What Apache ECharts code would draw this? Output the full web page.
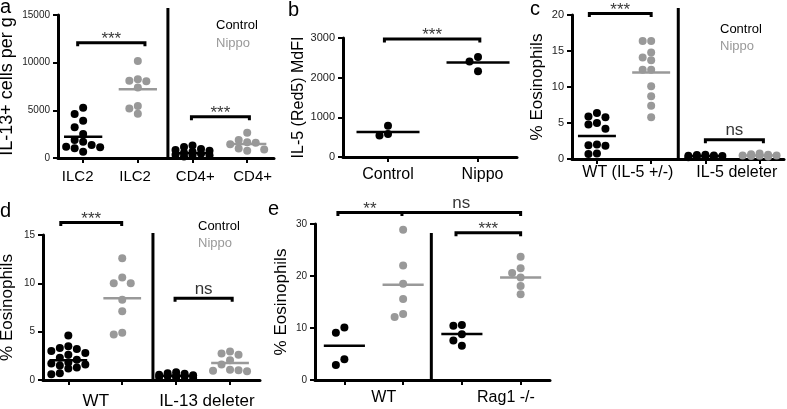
<!DOCTYPE html>
<html><head><meta charset="utf-8">
<script src="https://cdn.jsdelivr.net/npm/echarts@6/dist/echarts.min.js"></script>
<style>html,body{margin:0;padding:0;background:#fff}#c{width:787px;height:409px}</style>
</head><body><div id="c"></div>
<script>
// ---------------- DATA ----------------
// Panel a: IL-13+ cells per g
const catsA = ['ILC2', 'ILC2', 'CD4+', 'CD4+'];
const aCtrlILC2 = [5280, 4620, 3910, 3220, 2520, 1890, 1710, 1360, 1190, 1120, 1020, 660];
const aNippoILC2 = [10180, 8250, 8100, 8050, 7400, 5450, 5200, 4650];
const aCtrlCD4 = [1300, 1150, 950, 850, 750, 650, 550, 450, 350, 300, 250, 150];
const aNippoCD4 = [2650, 1900, 1650, 1600, 1450, 1000, 900, 750];
const aMeans = [2230, 7200, 490, 1470];
const aBracketTicks = [[0.9, 2.13], [2.98, 4.04]];
const aBracketLevels = [12100, 4330];
const aBracketLabels = [['***'], ['***']];

// Panel b: IL-5 (Red5) MdFI
const catsB = ['Control', 'Nippo'];
const bCtrl = [790, 580, 540];
const bNippo = [2520, 2410, 2160];
const bMeans = [630, 2380];
const bBracketTicks = [[0.96, 2.02]];
const bBracketLevels = [2975];
const bBracketLabels = [['***']];

// Panel c: % Eosinophils
const catsC = ['WT (IL-5 +/-)', 'IL-5 deleter'];
const cCtrlWT = [6.4, 5.9, 5.8, 5.0, 4.8, 4.2, 2.0, 1.9, 1.85, 0.75, 0.7];
const cNippoWT = [16.4, 16.4, 14.8, 14.1, 13.7, 12.4, 12.4, 10.1, 8.7, 7.4, 5.8];
const cCtrlDel = [0.6, 0.55, 0.5, 0.45, 0.4, 0.35, 0.3, 0.3, 0.25];
const cNippoDel = [0.75, 0.65, 0.6, 0.5, 0.5, 0.45, 0.4, 0.35];
const cMeans = [3.2, 12.0, 0.4, 0.5];
const cBracketTicks = [[0.86, 2.0], [3.0, 4.07]];
const cBracketLevels = [20.2, 2.67];
const cBracketLabels = [['***'], ['ns']];

// Panel d: % Eosinophils
const catsD = ['WT', 'IL-13 deleter'];
const dCtrlWT = [4.6, 3.5, 3.3, 3.2, 3.0, 2.8, 2.6, 2.3, 2.1, 1.8, 1.7, 1.6, 1.5, 1.3, 1.2, 0.7, 0.6];
const dNippoWT = [12.6, 10.6, 10.0, 10.0, 8.3, 7.1, 4.9, 4.7];
const dCtrlDel = [0.8, 0.7, 0.65, 0.55, 0.5, 0.45, 0.4, 0.35, 0.3, 0.25, 0.2];
const dNippoDel = [2.95, 2.75, 2.6, 2.05, 1.6, 1.05, 1.0, 0.95, 0.9];
const dMeans = [2.05, 8.45, 0.45, 1.75];
const dBracketTicks = [[0.86, 1.99], [2.98, 4.04]];
const dBracketLevels = [16.3, 8.45];
const dBracketLabels = [['***'], ['ns']];

// Panel e: % Eosinophils
const catsE = ['WT', 'Rag1 -/-'];
const eCtrlWT = [10.1, 9.1, 4.0, 2.9];
const eNippoWT = [28.9, 22.0, 18.5, 15.6, 12.7, 12.1];
const eCtrlRag = [10.6, 10.45, 8.8, 7.6, 6.6];
const eNippoRag = [23.7, 21.5, 20.6, 19.7, 18.1, 16.5];
const eMeans = [6.6, 18.3, 8.85, 19.7];
const eBracketTicks = [[0.89, 1.98, 4.0], [2.9, 4.0]];
const eBracketLevels = [32.2, 28.3];
const eBracketLabels = [['**', 'ns'], ['***']];

const legendNames = ['Control', 'Nippo'];

// ---------------- STYLE / LAYOUT ----------------
const FONT = "'Liberation Sans', Arial, Helvetica, sans-serif";
const BLACK = '#000', GRAY = '#999';

const layouts = {
  a: {grid: {left: 58, top: 15, width: 216, height: 143}, xMin: 0.54, xMax: 4.49, yMax: 15000, yStep: 5000,
      yLabelSize: 10, yName: 'IL-13+ cells per g', yNameSize: 18, yNameGap: 42,
      xLabelSize: 15, xLabelMargin: 11, labelPos: [0.9, 1.95, 3.05, 4.1], ticks: [1, 2, 3, 4], dividerX: 2.55, dividerExtraPx: 7},
  b: {grid: {left: 343, top: 38, width: 174, height: 119}, xMin: 0.5, xMax: 2.433, yMax: 3000, yStep: 1000,
      yLabelSize: 11, yName: 'IL-5 (Red5) MdFI', yNameSize: 16, yNameGap: 35,
      xLabelSize: 16, xLabelMargin: 10, labelPos: [1.0, 2.05], ticks: [1, 2], dividerX: null},
  c: {grid: {left: 572, top: 15, width: 212, height: 144}, xMin: 0.54, xMax: 4.45, yMax: 20, yStep: 5,
      yLabelSize: 11, yName: '% Eosinophils', yNameSize: 17, yNameGap: 26,
      xLabelSize: 16, xLabelMargin: 6, labelPos: [1.57, 3.58], ticks: [1, 2, 3, 4], dividerX: 2.5, dividerExtraPx: 7},
  d: {grid: {left: 43, top: 235, width: 217, height: 145}, xMin: 0.53, xMax: 4.556, yMax: 15, yStep: 5,
      yLabelSize: 10, yName: '% Eosinophils', yNameSize: 17, yNameGap: 27,
      xLabelSize: 17, xLabelMargin: 13, labelPos: [1.51, 3.57], ticks: [1, 2, 3, 4], dividerX: 2.57, dividerExtraPx: 2},
  e: {grid: {left: 315, top: 224, width: 235, height: 156}, xMin: 0.5, xMax: 4.5, yMax: 30, yStep: 10,
      yLabelSize: 10, yName: '% Eosinophils', yNameSize: 17, yNameGap: 25,
      xLabelSize: 16, xLabelMargin: 10, labelPos: [1.67, 3.75], ticks: [1, 2, 3, 4], dividerX: 2.48, dividerExtraPx: -9}
};

const panels = [
  {L: layouts.a, cats: catsA, groups: [[aCtrlILC2, BLACK, 0], [aNippoILC2, GRAY, 1], [aCtrlCD4, BLACK, 0], [aNippoCD4, GRAY, 1]], means: aMeans, br: [aBracketTicks, aBracketLevels, aBracketLabels]},
  {L: layouts.b, cats: catsB, groups: [[bCtrl, BLACK, 0], [bNippo, BLACK, 1]], means: bMeans, br: [bBracketTicks, bBracketLevels, bBracketLabels]},
  {L: layouts.c, cats: catsC, groups: [[cCtrlWT, BLACK, 0], [cNippoWT, GRAY, 1], [cCtrlDel, BLACK, 0], [cNippoDel, GRAY, 1]], means: cMeans, br: [cBracketTicks, cBracketLevels, cBracketLabels]},
  {L: layouts.d, cats: catsD, groups: [[dCtrlWT, BLACK, 0], [dNippoWT, GRAY, 1], [dCtrlDel, BLACK, 0], [dNippoDel, GRAY, 1]], means: dMeans, br: [dBracketTicks, dBracketLevels, dBracketLabels]},
  {L: layouts.e, cats: catsE, groups: [[eCtrlWT, BLACK, 0], [eNippoWT, GRAY, 1], [eCtrlRag, BLACK, 0], [eNippoRag, GRAY, 1]], means: eMeans, br: [eBracketTicks, eBracketLevels, eBracketLabels]}
];

// simple beeswarm layout (pixel-space collision avoidance) -> data-space x
function swarm(values, center, pxPerX, pxPerY) {
  const step = 8.5, minDist = 7.5, maxSteps = 2;
  const placed = [], out = [];
  values.forEach(v => {
    const py = v * pxPerY;
    let best = 0, bestD = -1;
    for (let k = 0; k <= 2 * maxSteps; k++) {
      const s = k === 0 ? 0 : (k % 2 ? -Math.ceil(k / 2) : Math.ceil(k / 2));
      const px = s * step;
      let dmin = Infinity;
      placed.forEach(p => { const d = Math.hypot(p[0] - px, p[1] - py); if (d < dmin) dmin = d; });
      if (dmin >= minDist) { best = px; bestD = dmin; break; }
      if (dmin > bestD + 0.5) { bestD = dmin; best = px; }
    }
    placed.push([best, py]);
    out.push([center + best / pxPerX, v]);
  });
  return out;
}

const grid = [], xAxis = [], yAxis = [], series = [];
panels.forEach((P, i) => {
  const L = P.L;
  const pxPerX = L.grid.width / (L.xMax - L.xMin);
  const pxPerY = L.grid.height / L.yMax;
  grid.push(Object.assign({containLabel: false, outerBoundsMode: 'none'}, L.grid));
  xAxis.push({
    gridIndex: i, type: 'value', min: L.xMin, max: L.xMax,
    axisLine: {show: true, onZero: false, lineStyle: {color: '#000', width: 3}},
    splitLine: {show: false},
    axisTick: {show: true, customValues: L.ticks, length: 5, lineStyle: {color: '#000', width: 2}},
    axisLabel: {
      customValues: L.labelPos, margin: L.xLabelMargin, fontSize: L.xLabelSize, color: '#000', fontFamily: FONT,
      formatter: v => { const j = L.labelPos.findIndex(p => Math.abs(p - v) < 1e-6); return j >= 0 ? P.cats[j] : ''; }
    }
  });
  yAxis.push({
    gridIndex: i, type: 'value', min: 0, max: L.yMax, interval: L.yStep,
    name: L.yName, nameLocation: 'middle', nameGap: L.yNameGap,
    nameTextStyle: {fontSize: L.yNameSize, color: '#000', fontFamily: FONT},
    axisLine: {show: true, lineStyle: {color: '#000', width: 3}},
    axisTick: {show: true, length: 5, lineStyle: {color: '#000', width: 2}},
    axisLabel: {fontSize: L.yLabelSize, color: '#222', margin: 8, fontFamily: FONT, formatter: v => String(v)},
    splitLine: {show: false}
  });
  P.groups.forEach((g, k) => {
    const center = L.ticks[k];
    series.push({
      name: legendNames[g[2]], type: 'scatter', xAxisIndex: i, yAxisIndex: i, clip: false,
      data: swarm(g[0], center, pxPerX, pxPerY), symbolSize: 8, itemStyle: {color: g[1], opacity: 1}, z: 2
    });
    series.push({
      type: 'line', xAxisIndex: i, yAxisIndex: i, symbol: 'none', z: 3, silent: true,
      data: [[center - 0.35, P.means[k]], [center + 0.35, P.means[k]]],
      lineStyle: {color: g[1], width: 2.5}
    });
  });
  if (L.dividerX !== null) {
    series.push({
      type: 'line', xAxisIndex: i, yAxisIndex: i, symbol: 'none', clip: false, silent: true,
      data: [[L.dividerX, 0], [L.dividerX, L.yMax + L.dividerExtraPx / pxPerY]],
      lineStyle: {color: '#000', width: 3}
    });
  }
  const [bt, bl, blab] = P.br;
  const depth = 3.5 / pxPerY;
  bt.forEach((ticks, b) => {
    const y = bl[b];
    const pts = [[ticks[0], y - depth], [ticks[0], y]];
    for (let t = 1; t < ticks.length; t++) {
      pts.push([ticks[t], y], [ticks[t], y - depth]);
      if (t < ticks.length - 1) pts.push([ticks[t], y]);
    }
    series.push({
      type: 'line', xAxisIndex: i, yAxisIndex: i, symbol: 'none', clip: false, silent: true,
      data: pts, lineStyle: {color: '#000', width: 3, join: 'miter'}
    });
    blab[b].forEach((txt, s) => {
      const x = (ticks[s] + ticks[s + 1]) / 2;
      series.push({
        type: 'scatter', xAxisIndex: i, yAxisIndex: i, clip: false, silent: true, symbolSize: 0,
        data: [[x, y]],
        label: {show: true, position: 'top', distance: txt.indexOf('*') >= 0 ? -5 : 1,
                formatter: txt, fontSize: 17, color: '#000', fontFamily: FONT}
      });
    });
  });
});

function txt(text, left, top, size, color) {
  return {type: 'text', left: left, top: top, silent: true,
          style: {text: text, fontSize: size, fontFamily: FONT, fill: color}};
}
const graphic = [
  txt('a', 0, -3, 20, '#000'), txt('b', 288, 0, 20, '#000'), txt('c', 530, -1, 20, '#000'),
  txt('d', 0, 201, 20, '#000'), txt('e', 268, 199, 20, '#000'),
  txt(legendNames[0], 216, 19, 13, BLACK), txt(legendNames[1], 216, 37, 13, GRAY),
  txt(legendNames[0], 720, 23, 13, BLACK), txt(legendNames[1], 720, 40, 13, GRAY),
  txt(legendNames[0], 198, 220, 13, BLACK), txt(legendNames[1], 198, 237, 13, GRAY)
];

const chart = echarts.init(document.getElementById('c'), null, {renderer: 'canvas'});
chart.setOption({animation: false, backgroundColor: '#fff', grid, xAxis, yAxis, series, graphic,
                 textStyle: {fontFamily: FONT}});
</script>
</body></html>
